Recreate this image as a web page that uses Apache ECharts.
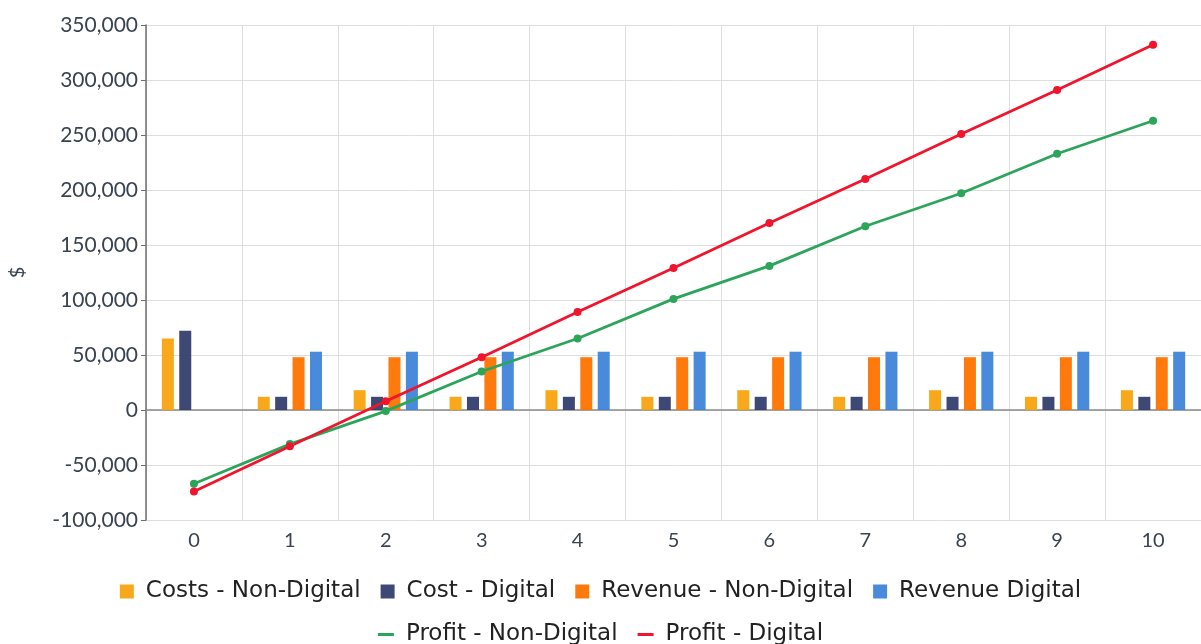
<!DOCTYPE html>
<html>
<head>
<meta charset="utf-8">
<script src="https://cdn.jsdelivr.net/npm/echarts@6/dist/echarts.min.js"></script>
<style>
  html, body { margin: 0; padding: 0; background: #fff; }
  #chart { width: 1201px; height: 644px; }
</style>
</head>
<body>
<div id="chart"></div>
<script>
var years = ['0', '1', '2', '3', '4', '5', '6', '7', '8', '9', '10'];
var costsNonDigital = [65000, 12000, 18000, 12000, 18000, 12000, 18000, 12000, 18000, 12000, 18000];
var costDigital = [72000, 12000, 12000, 12000, 12000, 12000, 12000, 12000, 12000, 12000, 12000];
var revenueNonDigital = [null, 48000, 48000, 48000, 48000, 48000, 48000, 48000, 48000, 48000, 48000];
var revenueDigital = [null, 53000, 53000, 53000, 53000, 53000, 53000, 53000, 53000, 53000, 53000];
var profitNonDigital = [-67000, -31000, -1000, 35000, 65000, 101000, 131000, 167000, 197000, 233000, 263000];
var profitDigital = [-74000, -33000, 8000, 48000, 89000, 129000, 170000, 210000, 251000, 291000, 332000];

var legendFont = 'DejaVu Sans';
var axisFont = 'Lato';

var chart = echarts.init(document.getElementById('chart'));

function barSeries(name, data, color) {
    return {
        name: name,
        type: 'bar',
        data: data,
        barGap: '45%',
        barCategoryGap: '33%',
        itemStyle: { color: color, opacity: 0.95 }
    };
}

function lineSeries(name, data, color) {
    return {
        name: name,
        type: 'line',
        data: data,
        symbol: 'circle',
        symbolSize: 8,
        lineStyle: { color: color, width: 2.8 },
        itemStyle: { color: color },
        z: 5
    };
}

var legendText = {
    fontFamily: legendFont,
    fontSize: 23,
    color: '#222',
    padding: [0, 0, 0, 7]
};

var option = {
    animation: false,
    grid: { left: 145, right: -2, top: 25, bottom: 124 },
    legend: [
        {
            data: ['Costs - Non-Digital', 'Cost - Digital', 'Revenue - Non-Digital', 'Revenue Digital'],
            top: 575,
            left: 'center',
            itemWidth: 14,
            itemHeight: 14,
            itemGap: 20,
            icon: 'rect',
            textStyle: legendText
        },
        {
            data: ['Profit - Non-Digital', 'Profit - Digital'],
            top: 618,
            left: 'center',
            itemWidth: 16,
            itemHeight: 3,
            itemGap: 20,
            icon: 'rect',
            textStyle: legendText
        }
    ],
    xAxis: {
        type: 'category',
        data: years,
        axisLine: { lineStyle: { color: '#8a8a8a', width: 1.5 } },
        axisTick: { alignWithLabel: true, length: 5, lineStyle: { color: '#8a8a8a' } },
        axisLabel: { fontFamily: axisFont, fontSize: 20, color: '#3a4450', margin: 11 },
        splitLine: { show: true, lineStyle: { color: '#dedede' } }
    },
    yAxis: {
        type: 'value',
        name: '$',
        nameLocation: 'middle',
        nameGap: 118,
        nameRotate: 90,
        nameTextStyle: { fontFamily: axisFont, fontSize: 20, color: '#3a4450' },
        min: -100000,
        max: 350000,
        interval: 50000,
        axisLine: { show: true, onZero: false, lineStyle: { color: '#6e6e6e', width: 1.5 } },
        axisTick: { show: true, length: 5, lineStyle: { color: '#6e6e6e' } },
        axisLabel: {
            fontFamily: axisFont,
            fontSize: 21,
            color: '#3a4450',
            margin: 8,
            formatter: function (v) { return v.toLocaleString('en-US'); }
        },
        splitLine: { lineStyle: { color: '#dedede' } }
    },
    series: [
        barSeries('Costs - Non-Digital', costsNonDigital, '#f8a30e'),
        barSeries('Cost - Digital', costDigital, '#333f6d'),
        barSeries('Revenue - Non-Digital', revenueNonDigital, '#ff7300'),
        barSeries('Revenue Digital', revenueDigital, '#3f84d9'),
        lineSeries('Profit - Non-Digital', profitNonDigital, '#2ca55a'),
        lineSeries('Profit - Digital', profitDigital, '#f0142d')
    ]
};

chart.setOption(option);
</script>
</body>
</html>
